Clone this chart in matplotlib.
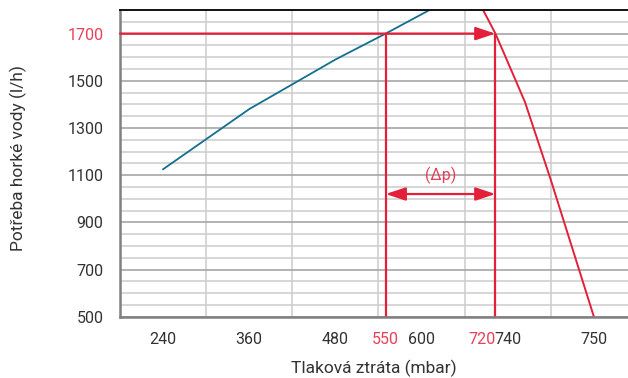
#!/usr/bin/env python3

import numpy as np
import matplotlib.pyplot as plt

plt.rcParams['font.family'] = ['Roboto', 'DejaVu Sans']

# x axis is not linear: each labelled value sits on its own grid column
SCALE_MBAR = [180, 240, 360, 480, 600, 740, 750, 755]
SCALE_POS = [0, 1, 3, 5, 7, 9, 11, 12]

xtick_values = [240, 360, 480, 550, 600, 720, 740, 750]
ytick_values = [500, 700, 900, 1100, 1300, 1500, 1700]
highlight_ticks = [550, 720, 1700]

# demand curve (blue)
demand_mbar = [240, 360, 480, 550, 613]
demand_flow = [1125, 1380, 1590, 1700, 1800]

# pump curve (red)
pump_mbar = [700, 720, 735, 742, 745, 750]
pump_flow = [1800, 1700, 1610, 1410, 1080, 500]

work_flow = 1700
dp_from, dp_to = 550, 720
dp_arrow_flow = 1020

RED = '#e3203a'
BLUE = '#136f8f'
TEXT = '#333333'


def forward(x):
    return np.interp(x, SCALE_MBAR, SCALE_POS)


def inverse(p):
    return np.interp(p, SCALE_POS, SCALE_MBAR)


def main():
    fig = plt.figure(figsize=(6.28, 3.78), dpi=100)
    ax = fig.add_axes([120 / 628, 61.3 / 378, 1 - 120 / 628, 306.7 / 378])

    ax.set_xscale('function', functions=(forward, inverse))
    ax.set_xlim(inverse(0), inverse(508 / 43.08))
    ax.set_ylim(500, 1800)

    # grid
    ax.set_xticks(xtick_values)
    ax.set_xticklabels([str(v) for v in xtick_values])
    ax.set_xticks(inverse(np.arange(0, 12)), minor=True)
    ax.set_yticks(ytick_values)
    ax.set_yticks(np.arange(500, 1801, 50), minor=True)
    ax.grid(False)
    ax.grid(which='minor', axis='x', color='#cccccc', linewidth=1.1)
    ax.grid(which='minor', axis='y', color='#cccccc', linewidth=1.1)
    ax.grid(which='major', axis='y', color='#a6a6a6', linewidth=1.2)
    ax.set_axisbelow(True)

    ax.tick_params(which='both', length=0)
    ax.tick_params(axis='x', pad=11, labelsize=11.5, labelcolor=TEXT)
    ax.tick_params(axis='y', pad=12, labelsize=11.5, labelcolor=TEXT)

    for lab in ax.get_xticklabels() + ax.get_yticklabels():
        if int(lab.get_text()) in highlight_ticks:
            lab.set_color('#e8405a')
        if lab.get_text() == '720':
            lab.set_ha('right')

    ax.spines['right'].set_visible(False)
    ax.spines['top'].set_color('#111111')
    ax.spines['top'].set_linewidth(1.4)
    for side in ('left', 'bottom'):
        ax.spines[side].set_color('#808080')
        ax.spines[side].set_linewidth(1.8)

    # curves
    ax.plot(demand_mbar, demand_flow, color=BLUE, linewidth=1.3)
    ax.plot(pump_mbar, pump_flow, color=RED, linewidth=1.4)

    # working point construction
    ax.vlines([dp_from, dp_to], 500, work_flow, color=RED, linewidth=1.6)
    arrow = dict(arrowstyle='-|>,head_length=1.2,head_width=0.4',
                 color=RED, linewidth=1.6, mutation_scale=10,
                 shrinkA=0, shrinkB=0)
    ax.annotate('', xy=(dp_to, work_flow), xytext=(inverse(0), work_flow),
                arrowprops=arrow)
    ax.annotate('', xy=(dp_to, dp_arrow_flow), xytext=(dp_from, dp_arrow_flow),
                arrowprops=dict(arrow, arrowstyle='<|-|>,head_length=1.2,head_width=0.4'))
    mid = inverse((forward(dp_from) + forward(dp_to)) / 2)
    ax.annotate('(Δp)', xy=(mid, dp_arrow_flow), xytext=(0, 7),
                textcoords='offset points', ha='center', va='bottom',
                color='#e8405a', fontsize=11.5)

    fig.text(374 / 628, 1 - 368 / 378, 'Tlaková ztráta (mbar)', ha='center',
             va='center', fontsize=12.5, color=TEXT)
    fig.text(18 / 628, 1 - 158 / 378, 'Potřeba horké vody (l/h)', ha='center',
             va='center', rotation=90, fontsize=12.5, color=TEXT)

    fig.savefig('out.png', dpi=100)


if __name__ == '__main__':
    main()
